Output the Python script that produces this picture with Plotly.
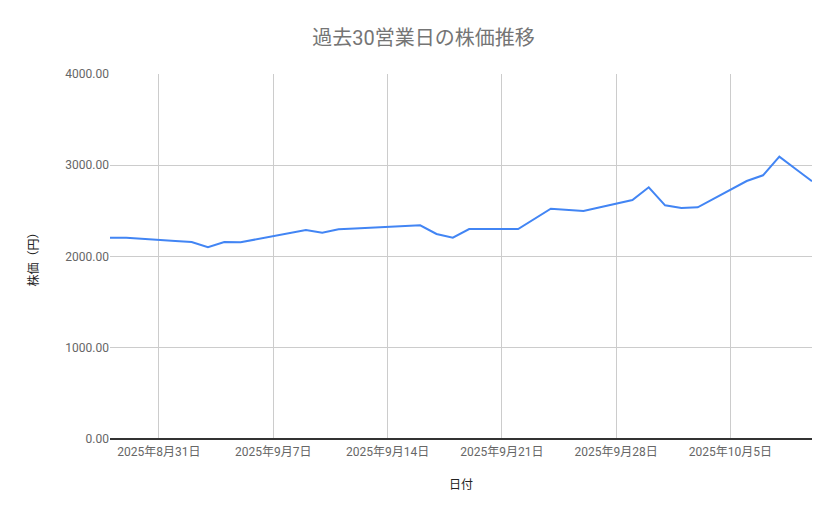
import pandas as pd
import plotly.graph_objects as go

# 過去30営業日の終値
dates = [
    "2025-08-28", "2025-08-29",
    "2025-09-01", "2025-09-02", "2025-09-03", "2025-09-04", "2025-09-05",
    "2025-09-08", "2025-09-09", "2025-09-10", "2025-09-11", "2025-09-12",
    "2025-09-16", "2025-09-17", "2025-09-18", "2025-09-19",
    "2025-09-22", "2025-09-24", "2025-09-25", "2025-09-26",
    "2025-09-29", "2025-09-30", "2025-10-01", "2025-10-02", "2025-10-03",
    "2025-10-06", "2025-10-07", "2025-10-08", "2025-10-09", "2025-10-10",
]
prices = [
    2206, 2206,
    2171, 2159, 2101, 2159, 2156,
    2261, 2290, 2261, 2298, 2308,
    2342, 2247, 2206, 2301,
    2301, 2524, 2513, 2499,
    2619, 2758, 2561, 2532, 2539,
    2827, 2890, 3094, 2959, 2824,
]

title = "過去30営業日の株価推移"
x_title = "日付"
y_title = "株価（円）"

df = pd.DataFrame({"date": pd.to_datetime(dates), "price": prices})

font = "Roboto, 'Noto Sans CJK JP', sans-serif"

fig = go.Figure()
fig.add_trace(go.Scatter(
    x=df["date"],
    y=df["price"],
    mode="lines",
    line=dict(color="#4285f4", width=2),
    showlegend=False,
))

# ページ本体の余白(8px)を考慮してサイズを調整
fig.update_layout(
    width=831,
    height=511,
    margin=dict(l=102, r=27, t=66, b=80),
    paper_bgcolor="white",
    plot_bgcolor="white",
    font=dict(family=font, color="#444"),
    title=dict(
        text=title,
        x=0.5,
        xanchor="center",
        y=0.941,
        yanchor="middle",
        font=dict(size=20, color="#757575", family=font),
    ),
)

fig.update_xaxes(
    range=["2025-08-28", "2025-10-10"],
    tick0="2025-08-31",
    dtick=7 * 24 * 3600 * 1000,
    tickformat="%Y年%-m月%-d日",
    showgrid=True,
    gridcolor="#cccccc",
    gridwidth=1,
    showline=False,
    zeroline=False,
    ticks="",
    ticklabelstandoff=4,
    tickfont=dict(size=12, color="#666"),
    title=dict(text=x_title, font=dict(size=12, color="#222"), standoff=22),
)

fig.update_yaxes(
    range=[0, 4000],
    dtick=1000,
    tickformat=".2f",
    showgrid=True,
    gridcolor="#cccccc",
    gridwidth=1,
    zeroline=True,
    zerolinecolor="#333333",
    zerolinewidth=1.5,
    showline=False,
    ticks="",
    tickfont=dict(size=12, color="#666"),
    title=dict(text=y_title, font=dict(size=12, color="#222"), standoff=24),
)

fig.write_html("out.html")
